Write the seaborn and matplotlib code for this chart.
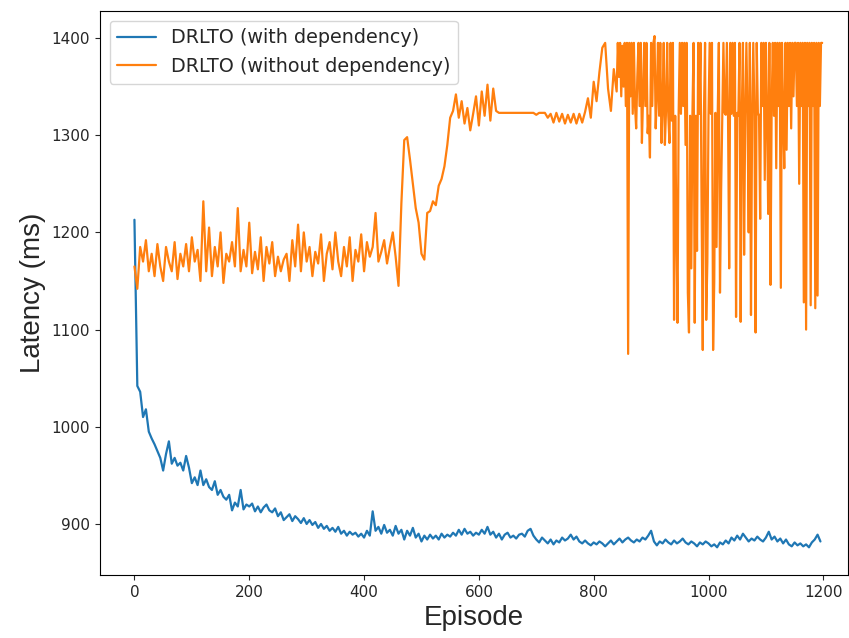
import numpy as np
import pandas as pd
import matplotlib
matplotlib.use("Agg")
import matplotlib.pyplot as plt
import seaborn as sns

episodes_with = list(range(0, 1200, 5))

with_dep = [
    1213,1042,1036,1010,1018,995,988,982,975,968,955,972,985,962,968,960,963,955,970,958,
    942,948,940,955,940,946,938,935,944,930,935,928,925,930,914,922,918,935,915,920,
    918,921,913,918,912,917,920,914,912,916,908,912,904,907,910,903,908,905,901,906,
    900,904,899,902,896,900,895,898,893,896,892,897,890,893,888,892,889,891,887,890,
    886,893,888,913,893,897,890,899,891,894,888,898,890,894,884,893,888,896,886,890,
    882,888,884,889,885,888,884,890,886,889,887,891,888,894,889,895,890,892,888,891,
    889,894,890,897,889,892,886,890,884,889,891,886,888,885,889,890,887,893,895,888,
    884,881,886,883,880,884,879,883,881,886,883,885,889,884,887,882,880,883,880,878,
    881,879,882,880,877,880,883,879,882,885,881,884,886,883,881,884,882,886,884,888,
    893,882,878,882,880,884,881,879,883,880,882,885,881,879,882,880,877,881,879,882,
    880,877,879,876,881,879,883,880,886,883,888,884,890,886,882,885,883,887,884,882,
    886,892,884,887,882,885,880,884,879,877,881,878,880,877,879,876,881,884,889,882,
]

episodes_without = list(range(0, 840, 5)) + list(range(840, 1200, 2))

without_dep = [
    # episodes 0-835, every 5
    1165,1142,1185,1170,1192,1160,1178,1155,1188,1165,1150,1185,1170,1160,1190,1152,1178,1165,1188,1160,
    1195,1170,1182,1150,1232,1160,1205,1155,1185,1165,1200,1148,1178,1170,1190,1165,1225,1160,1182,1165,
    1210,1158,1180,1162,1195,1150,1185,1168,1190,1155,1175,1160,1172,1178,1150,1192,1165,1208,1160,1200,
    1170,1185,1155,1180,1168,1198,1150,1178,1190,1162,1200,1170,1155,1185,1165,1195,1150,1182,1170,1198,
    1160,1190,1175,1185,1220,1170,1180,1192,1168,1185,1200,1175,1145,1230,1295,1298,1275,1250,1225,1210,
    1178,1172,1220,1222,1232,1228,1248,1255,1268,1290,1318,1325,1342,1318,1335,1312,1328,1305,1322,1340,
    1310,1345,1320,1352,1315,1348,1325,1323,1323,1323,1323,1323,1323,1323,1323,1323,1323,1323,1323,1323,
    1321,1323,1323,1323,1318,1322,1313,1323,1314,1322,1312,1321,1313,1322,1312,1322,1313,1324,1338,1318,
    1355,1335,1365,1390,1395,1348,1325,1368,
    # episodes 840-1198, every 2
    1345,1395,1360,1395,1340,1392,1350,1395,1330,1395,
    1075,1395,1340,1395,1322,1395,1330,1307,1360,1395,
    1330,1395,1292,1340,1395,1330,1395,1302,1320,1277,
    1395,1330,1395,1402,1307,1340,1395,1320,1395,1292,
    1330,1395,1290,1325,1395,1320,1292,1395,1315,1395,
    1110,1320,1208,1107,1323,1395,1322,1395,1330,1395,
    1290,1395,1138,1097,1320,1163,1322,1395,1107,1320,
    1181,1395,1322,1395,1220,1079,1320,1395,1110,1170,
    1320,1395,1322,1395,1079,1149,1323,1185,1320,1395,
    1138,1243,1320,1395,1323,1321,1395,1320,1163,1395,
    1322,1395,1320,1395,1113,1323,1320,1395,1108,1322,
    1395,1177,1323,1395,1320,1200,1395,1115,1320,1395,
    1323,1097,1395,1323,1320,1214,1395,1330,1395,1254,
    1395,1322,1219,1395,1146,1330,1395,1320,1395,1266,
    1395,1330,1395,1143,1395,1320,1266,1395,1285,1395,
    1330,1395,1307,1395,1340,1395,1395,1330,1395,1250,
    1395,1330,1395,1128,1395,1100,1395,1330,1395,1125,
    1395,1330,1395,1122,1395,1135,1395,1330,1395,1395,
]

labels = ["DRLTO (with dependency)", "DRLTO (without dependency)"]
colors = ["#1f77b4", "#ff7f0e"]

sns.set_style("ticks")
plt.rcParams["font.family"] = ["DejaVu Sans"]

fig = plt.figure(figsize=(8.49, 6.38), dpi=100)
ax = fig.add_axes([100/849, 1 - 575/638, 748/849, (575 - 11)/638])

df1 = pd.DataFrame({"Episode": episodes_with, "Latency": with_dep})
df2 = pd.DataFrame({"Episode": episodes_without, "Latency": without_dep})
sns.lineplot(data=df1, x="Episode", y="Latency", ax=ax, color=colors[0], label=labels[0], linewidth=1.6)
sns.lineplot(data=df2, x="Episode", y="Latency", ax=ax, color=colors[1], label=labels[1], linewidth=1.6)

ax.set_xlim(-60, 1243)
ax.set_ylim(847.5, 1427.8)
ax.set_xlabel("Episode", fontsize=20, family="Liberation Sans")
ax.set_ylabel("Latency (ms)", fontsize=20, family="Liberation Sans")
ax.set_xticks([0, 200, 400, 600, 800, 1000, 1200])
ax.set_yticks([900, 1000, 1100, 1200, 1300, 1400])
ax.tick_params(labelsize=11)
ax.legend(loc="upper left", fontsize=13.8, frameon=True)
for s in ax.spines.values():
    s.set_color("black")

fig.savefig("out.png", dpi=100)
